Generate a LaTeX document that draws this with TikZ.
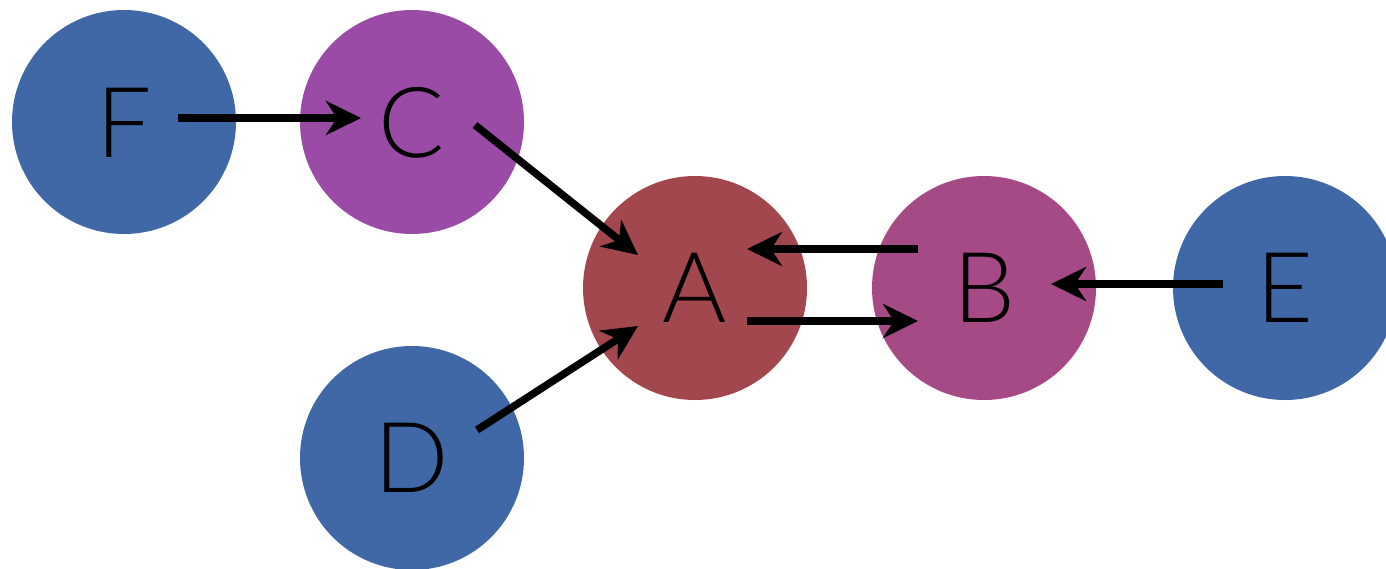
\documentclass[tikz,border=0pt]{standalone}
\usepackage{fontspec}
\setmainfont{Lato}[UprightFont={* Light}]
\usetikzlibrary{arrows.meta,calc}
\definecolor{bluec}{HTML}{4068A6}
\definecolor{purpc}{HTML}{9A4BA6}
\definecolor{redc}{HTML}{A3474F}
\definecolor{pinkc}{HTML}{A64A86}
\tikzset{
  vertex/.style={circle, minimum size=224pt, inner sep=0pt, text=black},
  lbl/.style={font=\fontsize{98}{98}\selectfont},
  edge/.style={line width=7.5pt, -{Stealth[length=35pt, width=34pt, inset=11pt]}}
}
\begin{document}
\begin{tikzpicture}[x=1pt, y=-1pt]
\useasboundingbox (0,0) rectangle (1386,568);
\clip (0,0) rectangle (1386,568);
\node[vertex, fill=bluec] (F) at (124,122) {};
\node[vertex, fill=purpc] (C) at (412,122) {};
\node[vertex, fill=redc] (A) at (695,288) {};
\node[vertex, fill=pinkc] (B) at (984,288) {};
\node[vertex, fill=bluec] (E) at (1285,288) {};
\node[vertex, fill=bluec] (D) at (412,458) {};
\node[lbl] (tF) at (124,123) {F};
\node[lbl] (tC) at (412,123) {C};
\node[lbl] (tA) at (695,288) {A};
\node[lbl] (tB) at (984,288) {B};
\node[lbl] (tE) at (1285,288) {E};
\node[lbl] (tD) at (412,458) {D};
\draw[edge] ($(F)+(54,-4)$) -- ($(C)+(-51,-4)$);
\draw[edge] ($(C)+(63,3)$) -- ($(A)+(-57,-33)$);
\draw[edge] ($(D)+(65,-28)$) -- ($(A)+(-57,38)$);
\draw[edge] ($(B)+(-66,-39)$) -- ($(A)+(52,-39)$);
\draw[edge] ($(A)+(52,33)$) -- ($(B)+(-66,33)$);
\draw[edge] ($(E)+(-62,-4)$) -- ($(B)+(67,-4)$);
\end{tikzpicture}
\end{document}
